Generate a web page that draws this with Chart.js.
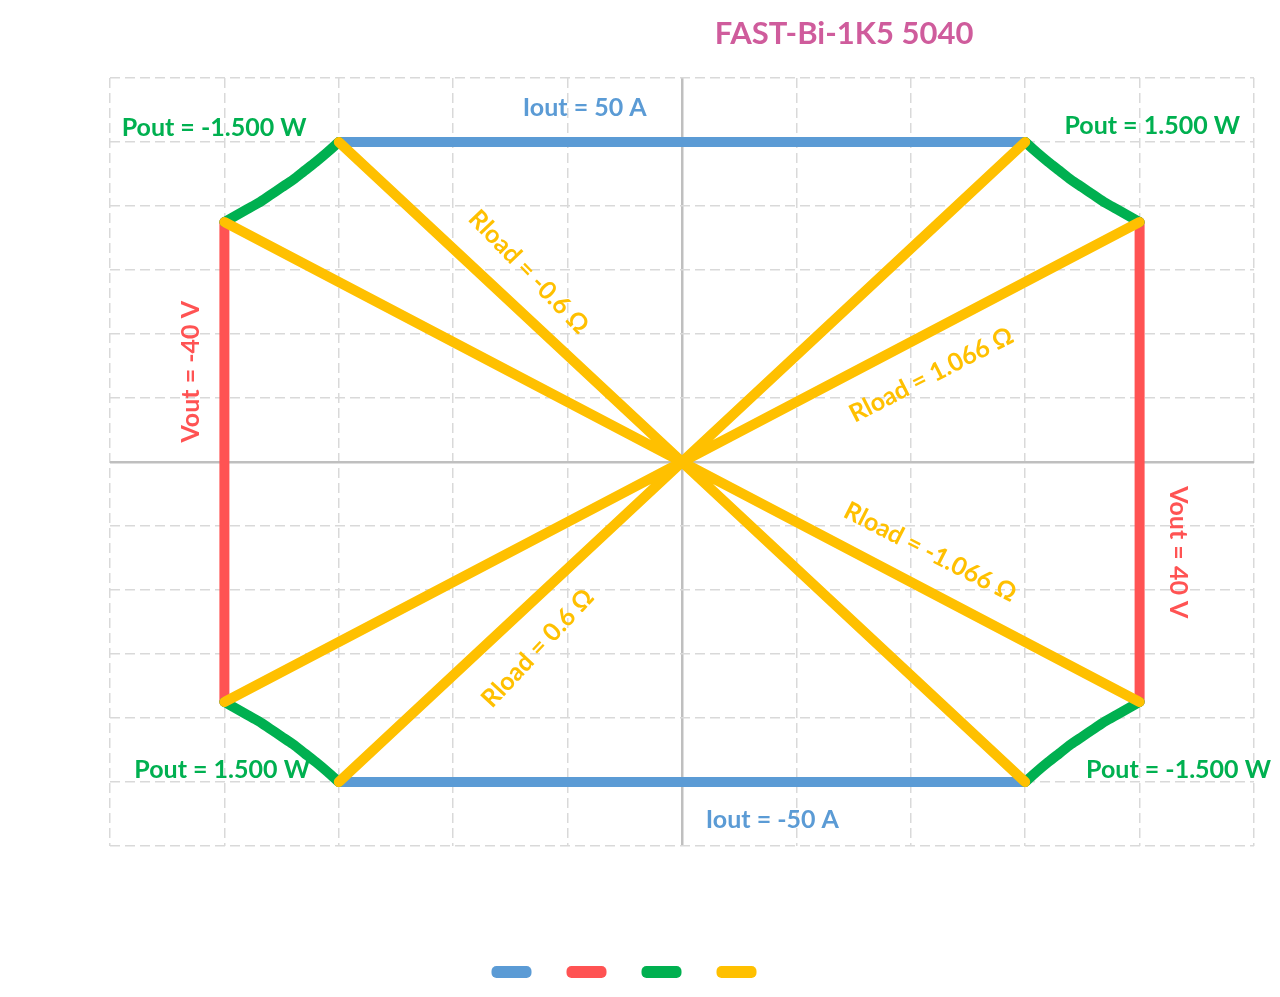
<!DOCTYPE html>
<html>
<head>
<meta charset="utf-8">
<title>FAST-Bi-1K5 5040</title>
<script src="https://cdn.jsdelivr.net/npm/chart.js@4.4.1/dist/chart.umd.min.js"></script>
<style>
  html, body { margin: 0; padding: 0; background: #fff; }
  #wrap { width: 1280px; height: 997px; }
</style>
</head>
<body>
<div id="wrap"><canvas id="myChart"></canvas></div>
<script>
// Vout in V (x), Iout in A (y); null splits a series into separate segments
const ioutV = [-30, 30, null, -30, 30];
const ioutI = [50, 50, null, -50, -50];
const voutV = [-40, -40, null, 40, 40];
const voutI = [37.5, -37.5, null, 37.5, -37.5];
// Pout = 1500 W corner, first quadrant (mirrored into the other three)
const poutV = [30, 31, 32, 33, 34, 35, 36, 37, 38, 39, 40];
const poutI = [50, 48.4, 46.9, 45.5, 44.1, 42.9, 41.7, 40.5, 39.5, 38.5, 37.5];
// Rload lines through the origin
const rloadV = [-30, 30, null, -30, 30, null, -40, 40, null, -40, 40];
const rloadI = [-50, 50, null, 50, -50, null, -37.5, 37.5, null, 37.5, -37.5];

const BLUE = '#5B9BD5', RED = '#FF5353', GREEN = '#00B050', YELLOW = '#FFC000';
const GRID = '#D9D9D9', AXIS = '#BFBFBF', TITLE = '#CF5C9C';

// text annotations, placed in data units
const notes = [
  { text: 'Iout = 50 A', v: -8.5, i: 55.3, rot: 0, color: BLUE },
  { text: 'Iout = -50 A', v: 7.9, i: -55.9, rot: 0, color: BLUE },
  { text: 'Pout = -1.500 W', v: -40.9, i: 52.2, rot: 0, color: GREEN },
  { text: 'Pout = 1.500 W', v: 41.1, i: 52.5, rot: 0, color: GREEN },
  { text: 'Pout = 1.500 W', v: -40.2, i: -48.1, rot: 0, color: GREEN },
  { text: 'Pout = -1.500 W', v: 43.4, i: -48.1, rot: 0, color: GREEN },
  { text: 'Vout = -40 V', v: -42.9, i: 14.1, rot: -90, color: RED },
  { text: 'Vout = 40 V', v: 43.4, i: -14.1, rot: 90, color: RED },
  { text: 'Rload = -0.6 Ω', v: -13.4, i: 29.7, rot: 46, color: YELLOW },
  { text: 'Rload = 1.066 Ω', v: 21.8, i: 13.6, rot: -27, color: YELLOW },
  { text: 'Rload = -1.066 Ω', v: 21.7, i: -14.1, rot: 27, color: YELLOW },
  { text: 'Rload = 0.6 Ω', v: -12.6, i: -29.1, rot: -47, color: YELLOW }
];

function pts(xs, ys) {
  return xs.map((x, k) => ({ x: x, y: ys[k] }));
}

// four branches of the power curve
const poutPts = [].concat(
  pts(poutV, poutI), [{ x: null, y: null }],
  pts(poutV.map(v => -v), poutI), [{ x: null, y: null }],
  pts(poutV.map(v => -v), poutI.map(i => -i)), [{ x: null, y: null }],
  pts(poutV, poutI.map(i => -i))
);

function lineSet(label, data, color, order) {
  return {
    label: label,
    data: data,
    showLine: true,
    borderColor: color,
    backgroundColor: color,
    borderWidth: 10,
    borderCapStyle: 'round',
    borderJoinStyle: 'round',
    pointRadius: 0,
    pointHoverRadius: 0,
    order: order
  };
}

const labelPlugin = {
  id: 'envelopeLabels',
  afterDatasetsDraw(chart) {
    const { ctx, scales: { x, y } } = chart;
    ctx.save();
    ctx.textAlign = 'center';
    ctx.textBaseline = 'middle';
    notes.forEach(n => {
      ctx.save();
      ctx.translate(x.getPixelForValue(n.v), y.getPixelForValue(n.i));
      ctx.rotate(n.rot * Math.PI / 180);
      ctx.font = 'bold 25px Lato';
      ctx.fillStyle = n.color;
      ctx.fillText(n.text, 0, 0);
      ctx.restore();
    });
    ctx.font = 'bold 31px Lato';
    ctx.fillStyle = TITLE;
    ctx.fillText('FAST-Bi-1K5 5040', 844, 34);
    ctx.restore();
  }
};

const isZero = c => c.tick && c.tick.value === 0;

const greenSet = lineSet('Pout', poutPts, GREEN, 2);
greenSet.tension = 0.3;

const ctx = document.getElementById('myChart').getContext('2d');
const myChart = new Chart(ctx, {
  type: 'scatter',
  data: {
    datasets: [
      lineSet('Iout', pts(ioutV, ioutI), BLUE, 4),
      lineSet('Vout', pts(voutV, voutI), RED, 3),
      greenSet,
      lineSet('Rload', pts(rloadV, rloadI), YELLOW, 1)
    ]
  },
  options: {
    responsive: true,
    maintainAspectRatio: false,
    animation: false,
    layout: { padding: { top: 78, left: 0, right: 26, bottom: 9 } },
    scales: {
      x: {
        type: 'linear',
        min: -50, max: 50,
        ticks: { display: false, stepSize: 10 },
        grid: {
          color: c => isZero(c) ? AXIS : GRID,
          lineWidth: c => isZero(c) ? 2.5 : 1.5,
          drawTicks: false
        },
        border: { display: false, dash: c => isZero(c) ? [] : [10, 5] }
      },
      y: {
        type: 'linear',
        min: -60, max: 60,
        ticks: { display: false, stepSize: 10 },
        grid: {
          color: c => isZero(c) ? AXIS : GRID,
          lineWidth: c => isZero(c) ? 2.5 : 1.5,
          drawTicks: false
        },
        border: { display: false, dash: c => isZero(c) ? [] : [10, 5] },
        afterFit: s => { s.width = 110; }
      }
    },
    plugins: {
      title: { display: false },
      tooltip: { enabled: false },
      legend: {
        position: 'bottom',
        title: { display: true, text: '', font: { size: 12, lineHeight: 1 }, padding: { top: 69, bottom: 0 } },
        labels: {
          boxWidth: 30,
          boxHeight: 2,
          padding: 39,
          font: { size: 12 },
          sort: (a, b) => a.datasetIndex - b.datasetIndex,
          generateLabels: chart => Chart.defaults.plugins.legend.labels.generateLabels(chart).map(l => Object.assign(l, { text: '' }))
        }
      }
    }
  },
  plugins: [labelPlugin]
});
</script>
</body>
</html>
